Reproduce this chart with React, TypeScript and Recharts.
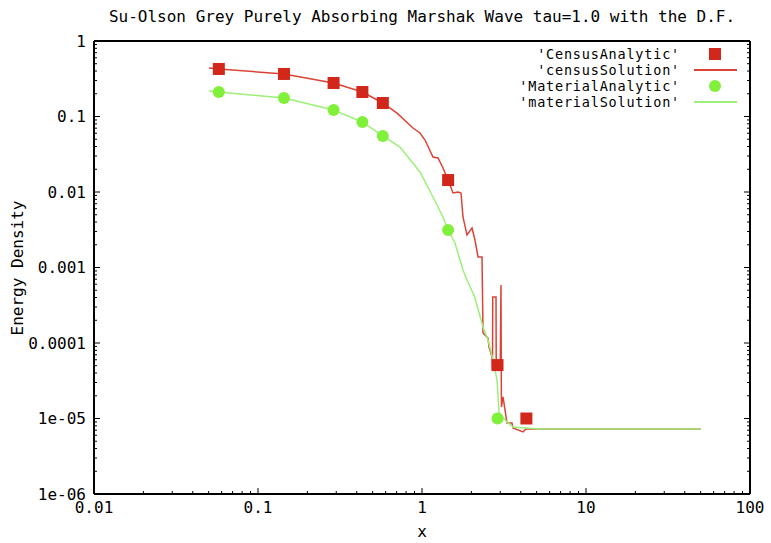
import { ComposedChart, Line, Scatter, XAxis, YAxis } from 'recharts';

// axis ticks (log scales, decades)
const xMajorTicks = [0.01, 0.1, 1, 10, 100];
const xTickLabels = ['0.01', '0.1', '1', '10', '100'];
const yMajorTicks = [1e-6, 1e-5, 1e-4, 1e-3, 0.01, 0.1, 1];
const yTickLabels = ['1e-06', '1e-05', '0.0001', '0.001', '0.01', '0.1', '1'];

// analytic benchmark points
const analyticX = [0.0577, 0.144, 0.289, 0.433, 0.577, 1.443, 2.887, 4.33];
const censusAnalyticY = [0.426, 0.366, 0.278, 0.211, 0.151, 0.0144, 5.1e-5, 1.0e-5];
const materialAnalyticY = [0.211, 0.176, 0.122, 0.0844, 0.0552, 0.00314, 1.0e-5];

// census solution (noisy near the front)
const censusSolutionX = [
  0.0502, 0.0577, 0.144, 0.289, 0.433, 0.577, 0.704, 0.881, 0.972, 1.043, 1.167, 1.252, 1.343,
  1.443, 1.545, 1.658, 1.729, 1.778, 1.881, 2.018, 2.105, 2.196, 2.322, 2.355, 2.422, 2.526,
  2.562, 2.673, 2.69, 2.7, 2.827, 2.835, 2.887, 3.0, 3.031, 3.05, 3.118, 3.207, 3.298, 3.538,
  3.588, 4.13, 4.3, 50,
];
const censusSolutionY = [
  0.439, 0.426, 0.366, 0.278, 0.211, 0.151, 0.111, 0.0704, 0.0605, 0.0488, 0.0291, 0.0282, 0.0208,
  0.0144, 0.0097, 0.01, 0.0097, 0.00467, 0.00269, 0.00334, 0.00231, 0.00138, 0.00138, 1.36e-4,
  1.28e-4, 1.16e-4, 8.85e-5, 6.53e-5, 4.39e-5, 4.07e-4, 4.07e-4, 4.81e-5, 5.1e-5, 5.1e-5, 5.86e-4,
  1.42e-5, 1.93e-5, 1.3e-5, 8.71e-6, 8.71e-6, 7.48e-6, 6.63e-6, 7.26e-6, 7.26e-6,
];

// material solution
const materialSolutionX = [
  0.0502, 0.0577, 0.144, 0.289, 0.433, 0.577, 0.734, 0.972, 1.167, 1.343, 1.443, 1.589, 1.778,
  1.881, 2.046, 2.105, 2.355, 2.526, 2.71, 2.866, 2.95, 3.298, 3.588, 5.24, 50,
];
const materialSolutionY = [
  0.218, 0.211, 0.176, 0.122, 0.0844, 0.0552, 0.0394, 0.0184, 0.00859, 0.00467, 0.00314, 0.00211,
  9.27e-4, 6.83e-4, 4.59e-4, 3.94e-4, 1.63e-4, 1.1e-4, 5.96e-5, 3.24e-5, 1.2e-5, 9.0e-6, 7.71e-6,
  7.26e-6, 7.26e-6,
];

const RED = '#d2281c';
const RED_LINE = '#dc4336';
const GREEN = '#80f03a';
const GREEN_LINE = '#9cf07a';
const FONT = '"DejaVu Sans Mono", "Liberation Mono", monospace';

const zip = (xs: number[], ys: number[]) => ys.map((y, i) => ({ x: xs[i], y }));
const censusAnalytic = zip(analyticX, censusAnalyticY);
const materialAnalytic = zip(analyticX, materialAnalyticY);
const censusSolution = zip(censusSolutionX, censusSolutionY);
const materialSolution = zip(materialSolutionX, materialSolutionY);

// decade ticks plus 2..9 minor ticks
const withMinor = (majors: number[]) => {
  const out: number[] = [];
  majors.forEach((m, i) => {
    out.push(m);
    if (i < majors.length - 1) for (let k = 2; k <= 9; k++) out.push(+(m * k).toPrecision(3));
  });
  return out;
};
const xTicks = withMinor(xMajorTicks);
const yTicks = withMinor(yMajorTicks);

const labelFor = (v: number, majors: number[], labels: string[]) => {
  const i = majors.findIndex((m) => Math.abs(Math.log10(m) - Math.log10(v)) < 1e-6);
  return i >= 0 ? labels[i] : null;
};

const MAJOR = 6;
const MINOR = 3;

function renderTick(props: any, side: 'bottom' | 'top' | 'left' | 'right') {
  const { x, y, payload } = props;
  const isX = side === 'bottom' || side === 'top';
  const label = isX
    ? labelFor(payload.value, xMajorTicks, xTickLabels)
    : labelFor(payload.value, yMajorTicks, yTickLabels);
  const len = label ? MAJOR : MINOR;
  let line;
  if (side === 'bottom') line = <line x1={x} y1={y} x2={x} y2={y - len} stroke="#000" />;
  else if (side === 'top') line = <line x1={x} y1={y} x2={x} y2={y + len} stroke="#000" />;
  else if (side === 'left') line = <line x1={x} y1={y} x2={x + len} y2={y} stroke="#000" />;
  else line = <line x1={x} y1={y} x2={x - len} y2={y} stroke="#000" />;
  return (
    <g>
      {line}
      {label && side === 'bottom' && (
        <text x={x} y={y + 13} textAnchor="middle" dominantBaseline="central" fontFamily={FONT} fontSize={16} fill="#000">
          {label}
        </text>
      )}
      {label && side === 'left' && (
        <text x={x - 8} y={y} textAnchor="end" dominantBaseline="central" fontFamily={FONT} fontSize={16} fill="#000">
          {label}
        </text>
      )}
    </g>
  );
}

const SquareMarker = (props: any) => (
  <rect x={props.cx - 6} y={props.cy - 6} width={12} height={12} fill={RED} />
);
const CircleMarker = (props: any) => <circle cx={props.cx} cy={props.cy} r={6} fill={GREEN} />;

const legendRows = [
  { name: "'CensusAnalytic'", kind: 'square', color: RED },
  { name: "'censusSolution'", kind: 'line', color: RED_LINE },
  { name: "'MaterialAnalytic'", kind: 'circle', color: GREEN },
  { name: "'materialSolution'", kind: 'line', color: GREEN_LINE },
];

const axisLine = { stroke: '#000', strokeWidth: 2 };

export default function App() {
  return (
    <div style={{ position: 'absolute', left: 0, top: 0, width: 771, height: 543, background: '#fff', fontFamily: FONT }}>
      <ComposedChart width={771} height={543} margin={{ top: 40, right: 20, bottom: 48, left: 93 }}>
        <XAxis
          dataKey="x"
          type="number"
          scale="log"
          domain={[0.01, 100]}
          allowDataOverflow
          ticks={xTicks}
          interval={0}
          height={1}
          tickSize={0}
          tickMargin={0}
          axisLine={axisLine}
          tick={(p: any) => renderTick(p, 'bottom')}
        />
        <XAxis
          xAxisId="top"
          orientation="top"
          type="number"
          scale="log"
          domain={[0.01, 100]}
          allowDataOverflow
          ticks={xTicks}
          interval={0}
          height={1}
          tickSize={0}
          tickMargin={0}
          axisLine={axisLine}
          tick={(p: any) => renderTick(p, 'top')}
        />
        <YAxis
          dataKey="y"
          type="number"
          scale="log"
          domain={[1e-6, 1]}
          allowDataOverflow
          ticks={yTicks}
          interval={0}
          width={1}
          tickSize={0}
          tickMargin={0}
          axisLine={axisLine}
          tick={(p: any) => renderTick(p, 'left')}
        />
        <YAxis
          yAxisId="right"
          orientation="right"
          type="number"
          scale="log"
          domain={[1e-6, 1]}
          allowDataOverflow
          ticks={yTicks}
          interval={0}
          width={1}
          tickSize={0}
          tickMargin={0}
          axisLine={axisLine}
          tick={(p: any) => renderTick(p, 'right')}
        />
        <Scatter data={censusAnalytic} dataKey="y" shape={SquareMarker} isAnimationActive={false} />
        <Line
          data={censusSolution}
          dataKey="y"
          type="linear"
          stroke={RED_LINE}
          strokeWidth={1.5}
          dot={false}
          activeDot={false}
          isAnimationActive={false}
        />
        <Scatter data={materialAnalytic} dataKey="y" shape={CircleMarker} isAnimationActive={false} />
        <Line
          data={materialSolution}
          dataKey="y"
          type="linear"
          stroke={GREEN_LINE}
          strokeWidth={1.5}
          dot={false}
          activeDot={false}
          isAnimationActive={false}
        />
      </ComposedChart>

      {/* title and axis labels */}
      <div style={{ position: 'absolute', left: 422, top: 17, transform: 'translate(-50%, -50%)', whiteSpace: 'nowrap', fontSize: 16, lineHeight: 1 }}>
        Su-Olson Grey Purely Absorbing Marshak Wave tau=1.0 with the D.F.
      </div>
      <div style={{ position: 'absolute', left: 18, top: 268, transform: 'translate(-50%, -50%) rotate(-90deg)', whiteSpace: 'nowrap', fontSize: 16, lineHeight: 1 }}>
        Energy Density
      </div>
      <div style={{ position: 'absolute', left: 422, top: 532, transform: 'translate(-50%, -50%)', fontSize: 16, lineHeight: 1 }}>
        x
      </div>

      {/* legend, top right inside the frame */}
      {legendRows.map((r, i) => (
        <div key={r.name} style={{ position: 'absolute', left: 380, top: 54 + i * 16 - 8, width: 360, height: 16 }}>
          <span
            style={{
              position: 'absolute',
              right: 60,
              top: 1,
              lineHeight: '14px',
              fontSize: 13.5,
              letterSpacing: 0.8,
              whiteSpace: 'nowrap',
            }}
          >
            {r.name}
          </span>
          <svg width={50} height={16} style={{ position: 'absolute', left: 313, top: 0 }}>
            {r.kind === 'square' && <rect x={16} y={2} width={12} height={12} fill={r.color} />}
            {r.kind === 'circle' && <circle cx={22} cy={8} r={6} fill={r.color} />}
            {r.kind === 'line' && <line x1={1} y1={8} x2={44} y2={8} stroke={r.color} strokeWidth={2} />}
          </svg>
        </div>
      ))}
    </div>
  );
}
